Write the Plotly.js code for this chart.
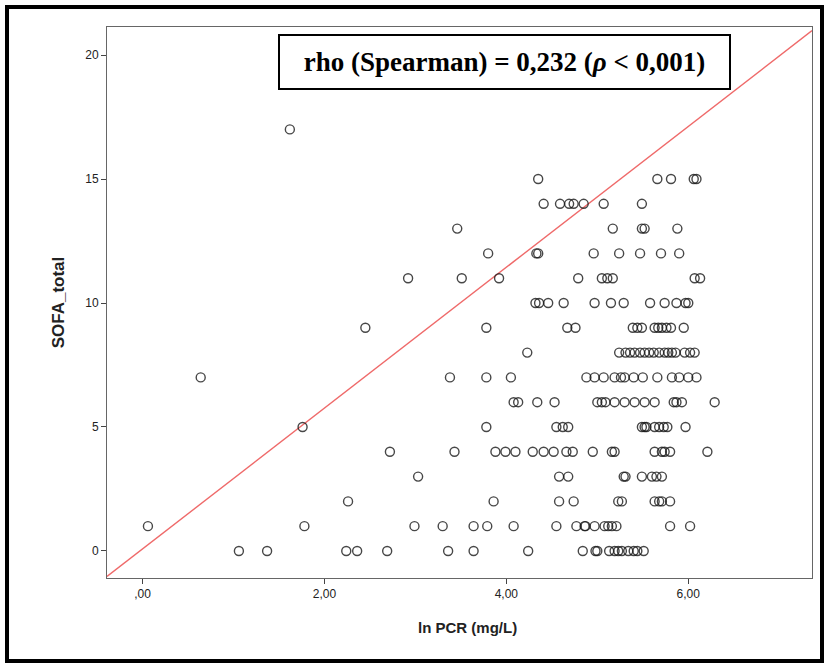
<!DOCTYPE html>
<html>
<head>
<meta charset="utf-8">
<script src="https://cdn.plot.ly/plotly-3.0.1.min.js"></script>
<style>
  html, body { margin: 0; padding: 0; background: #fff; }
  #wrap { position: relative; width: 828px; height: 666px; overflow: hidden; }
  #chart { position: absolute; left: 0; top: 0; width: 828px; height: 666px; }
  #frame { position: absolute; left: 5px; top: 5px; width: 819px; height: 658px;
           border: 4px solid #000; box-sizing: border-box; pointer-events: none; }
</style>
</head>
<body>
<div id="wrap">
  <div id="chart"></div>
  <div id="frame"></div>
</div>
<script>
// ln PCR (mg/L) values, grouped by SOFA_total score
const pcrSofa0  = [1.06, 1.37, 2.24, 2.36, 2.69, 3.36, 3.64, 4.24, 4.84, 4.98, 5.00, 5.13, 5.19, 5.23, 5.27, 5.34, 5.40, 5.44, 5.51];
const pcrSofa1  = [0.06, 1.78, 2.99, 3.30, 3.64, 3.79, 4.08, 4.55, 4.77, 4.86, 4.87, 4.97, 5.08, 5.12, 5.16, 5.21, 5.80, 6.02];
const pcrSofa2  = [2.26, 3.86, 4.58, 4.74, 5.23, 5.27, 5.63, 5.68, 5.71, 5.80];
const pcrSofa3  = [3.03, 4.58, 4.68, 5.29, 5.31, 5.49, 5.60, 5.65, 5.71];
const pcrSofa4  = [2.72, 3.43, 3.88, 3.99, 4.10, 4.29, 4.41, 4.52, 4.66, 4.73, 4.95, 5.16, 5.19, 5.63, 5.71, 5.74, 5.80, 6.21];
const pcrSofa5  = [1.76, 3.78, 4.55, 4.62, 4.68, 5.49, 5.52, 5.54, 5.63, 5.68, 5.73, 5.77, 5.97];
const pcrSofa6  = [4.08, 4.13, 4.34, 4.53, 5.00, 5.05, 5.09, 5.19, 5.30, 5.41, 5.52, 5.63, 5.84, 5.87, 5.93, 6.29];
const pcrSofa7  = [0.64, 3.38, 3.78, 4.05, 4.88, 4.97, 5.07, 5.19, 5.26, 5.30, 5.40, 5.50, 5.66, 5.82, 5.90, 6.00, 6.09];
const pcrSofa8  = [4.23, 5.24, 5.31, 5.36, 5.41, 5.47, 5.52, 5.57, 5.62, 5.68, 5.74, 5.78, 5.82, 5.86, 5.96, 6.02, 6.07];
const pcrSofa9  = [2.45, 3.78, 4.67, 4.76, 5.39, 5.44, 5.49, 5.63, 5.67, 5.71, 5.76, 5.81, 5.95];
const pcrSofa10 = [4.32, 4.36, 4.46, 4.63, 4.97, 5.15, 5.29, 5.58, 5.74, 5.87, 5.97, 6.00];
const pcrSofa11 = [2.92, 3.51, 3.92, 4.79, 5.05, 5.11, 5.17, 6.07, 6.13];
const pcrSofa12 = [3.80, 4.33, 4.35, 4.96, 5.24, 5.47, 5.70, 5.90];
const pcrSofa13 = [3.46, 5.17, 5.49, 5.52, 5.88];
const pcrSofa14 = [4.41, 4.59, 4.69, 4.74, 4.85, 5.07, 5.49];
const pcrSofa15 = [4.35, 5.66, 5.81, 6.06, 6.09];
const pcrSofa17 = [1.62];

const sofaScores = [0, 1, 2, 3, 4, 5, 6, 7, 8, 9, 10, 11, 12, 13, 14, 15, 17];
const pcrGroups = [pcrSofa0, pcrSofa1, pcrSofa2, pcrSofa3, pcrSofa4, pcrSofa5, pcrSofa6, pcrSofa7,
                   pcrSofa8, pcrSofa9, pcrSofa10, pcrSofa11, pcrSofa12, pcrSofa13, pcrSofa14, pcrSofa15, pcrSofa17];

// Axis ticks
const xTickVals = [0, 2, 4, 6];
const xTickText = [',00', '2,00', '4,00', '6,00'];
const yTickVals = [0, 5, 10, 15, 20];

// Axis ranges and reference line (intercept, slope)
const xRange = [-0.39, 7.36];
const yRange = [-1.09, 21.13];
const lineIntercept = 0.08;
const lineSlope = 2.84;

const xTitle = 'ln PCR (mg/L)';
const yTitle = 'SOFA_total';
const statText = 'rho (Spearman) = 0,232 (<i>ρ</i> < 0,001)';

const xs = [], ys = [];
pcrGroups.forEach((g, i) => g.forEach(v => { xs.push(v); ys.push(sofaScores[i]); }));

const lineX = xRange.slice();
const lineY = lineX.map(x => lineIntercept + lineSlope * x);

const traces = [
  {
    x: lineX, y: lineY, type: 'scatter', mode: 'lines',
    line: { color: '#ef6a6a', width: 1.4 }, hoverinfo: 'skip', showlegend: false
  },
  {
    x: xs, y: ys, type: 'scatter', mode: 'markers',
    marker: { symbol: 'circle-open', size: 9, color: 'rgba(25,25,25,0.8)', line: { width: 1.4 } },
    showlegend: false
  }
];

const sans = 'Liberation Sans, Arial, sans-serif';

const layout = {
  width: 828, height: 666,
  margin: { l: 107, r: 16, t: 27, b: 88 },
  paper_bgcolor: 'rgba(0,0,0,0)',
  plot_bgcolor: '#fff',
  font: { family: sans, color: '#222' },
  xaxis: {
    range: xRange, tickvals: xTickVals, ticktext: xTickText,
    showgrid: false, zeroline: false, showline: true, mirror: true,
    linecolor: '#666', linewidth: 1, ticks: 'outside', ticklen: 5, tickcolor: '#444',
    tickfont: { size: 12, color: '#222', family: sans }
  },
  yaxis: {
    range: yRange, tickvals: yTickVals,
    showgrid: false, zeroline: false, showline: true, mirror: true,
    linecolor: '#666', linewidth: 1, ticks: 'outside', ticklen: 5, tickcolor: '#444',
    tickfont: { size: 12, color: '#222', family: sans },
    title: { text: '<b>' + yTitle + '</b>', font: { size: 17, color: '#222', family: sans }, standoff: 16 }
  },
  annotations: [
    {
      xref: 'paper', yref: 'paper', x: 0.5638, y: 0.9365,
      xanchor: 'center', yanchor: 'middle', showarrow: false,
      text: '<b>' + statText + '</b>',
      font: { family: 'Liberation Serif, Times New Roman, serif', size: 27, color: '#000' },
      bgcolor: '#fff', bordercolor: '#000', borderwidth: 2, borderpad: 2,
      width: 445, height: 48
    },
    {
      xref: 'paper', yref: 'paper', x: 0.512, y: -0.0907,
      xanchor: 'center', yanchor: 'middle', showarrow: false,
      text: '<b>' + xTitle + '</b>',
      font: { family: sans, size: 15, color: '#222' }
    }
  ]
};

Plotly.newPlot('chart', traces, layout, { displayModeBar: false, staticPlot: true });
</script>
</body>
</html>
